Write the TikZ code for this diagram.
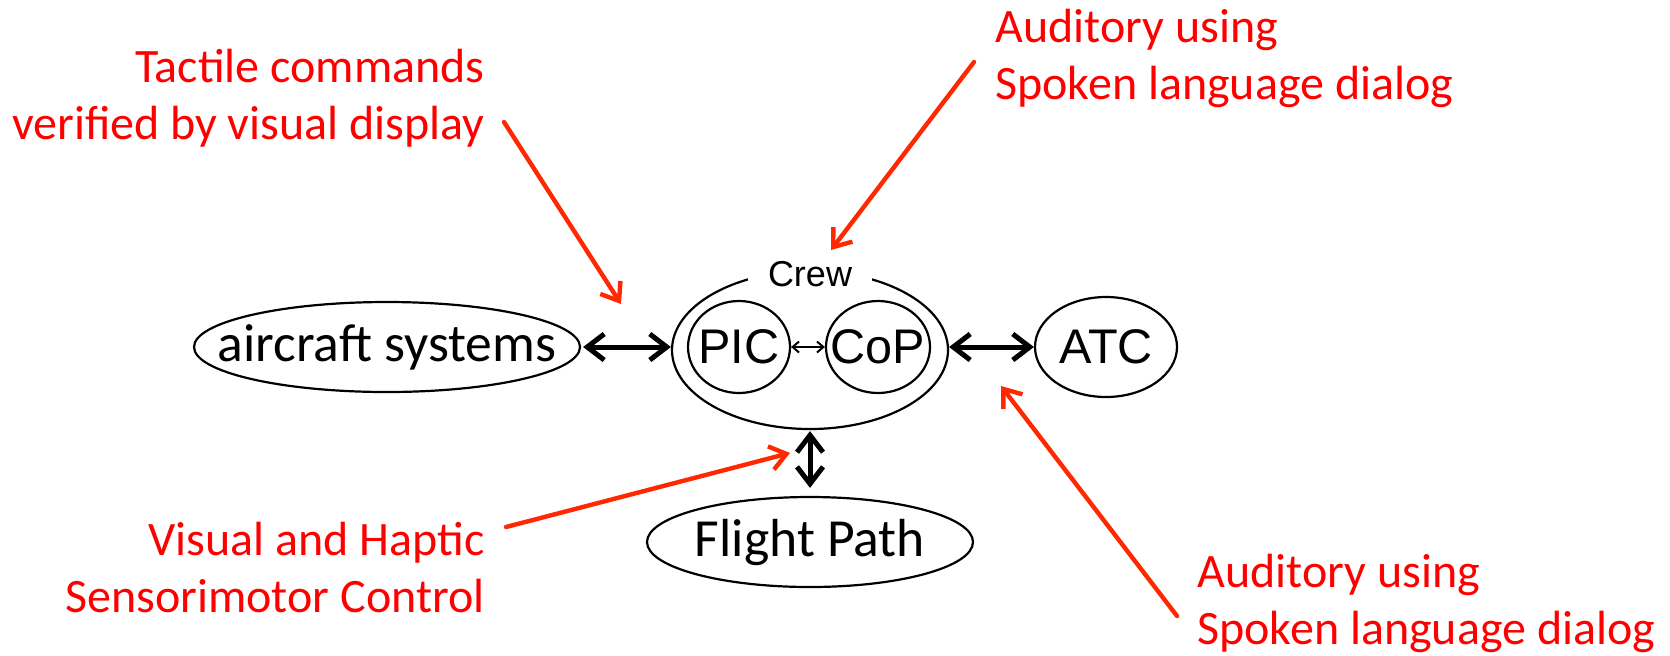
\documentclass[tikz,border=0pt]{standalone}
\usepackage{fontspec}
\setmainfont{Carlito}
\newfontfamily\helv{Liberation Sans}
\usetikzlibrary{arrows.meta,shapes.geometric}
\definecolor{notered}{RGB}{255,0,0}
\definecolor{pointer}{RGB}{255,40,0}
\begin{document}
\begin{tikzpicture}[x=0.5pt,y=-0.5pt,
  bubble/.style={draw, ellipse, line width=1.1pt, fill=white, inner sep=0pt},
  bigtext/.style={font=\fontsize{26.8}{30}\selectfont},
  roletext/.style={font=\helv\fontsize{24.3}{27}\selectfont},
  note/.style={text=notered, inner sep=0pt, font=\fontsize{24}{28.5}\selectfont},
  link/.style={line width=2.5pt, line cap=round, {Straight Barb[length=8.5pt,width=13pt]}-{Straight Barb[length=8.5pt,width=13pt]}},
  thinlink/.style={line width=1pt, {Straight Barb[length=3.2pt,width=5.5pt]}-{Straight Barb[length=3.2pt,width=5.5pt]}},
  pointarrow/.style={line width=2.2pt, line cap=round, draw=pointer, -{Straight Barb[length=8pt,width=12pt]}}]
\useasboundingbox (0,0) rectangle (1670,655);

% entities
\node[bubble, minimum width=193pt, minimum height=45pt,
      label={[bigtext]center:aircraft systems}] (air) at (387,347) {};
\node[bubble, minimum width=138pt, minimum height=79pt] (crew) at (810,350) {};
\node[bubble, minimum width=51pt, minimum height=46pt,
      label={[roletext]center:PIC}] (pic) at (739,347) {};
\node[bubble, minimum width=52pt, minimum height=46pt,
      label={[roletext]center:CoP}] (cop) at (878,347) {};
\node[fill=white, inner xsep=10pt, inner ysep=1pt,
      font=\helv\fontsize{18}{20}\selectfont] (crewlbl) at ([yshift=-2pt]crew.north) {Crew};
\node[bubble, minimum width=71pt, minimum height=50pt,
      label={[roletext]center:ATC}] (atc) at (1106,347) {};
\node[bubble, minimum width=163pt, minimum height=45pt,
      label={[bigtext]center:Flight Path}] (fp) at (810,542) {};

% links between entities
\draw[link, shorten <=1pt] (air.east) -- (air.east -| crew.west);
\draw[link] (crew.east |- atc.west) -- (atc.west);
\draw[thinlink] (pic.east) -- (cop.west);
\draw[link, shorten <=0.5pt, shorten >=4pt] (crew.south) -- (fp.north);

% modality notes
\node[note, align=right, anchor=east] (tactile) at (485,98)
  {Tactile commands\\verified by visual display};
\node[note, align=left, anchor=west] (audtop) at (995,58)
  {Auditory using\\Spoken language dialog};
\node[note, align=right, anchor=east] (visual) at (485,567)
  {Visual and Haptic\\Sensorimotor Control};
\node[note, align=left, anchor=west] (audbot) at (1197,603)
  {Auditory using\\Spoken language dialog};

% pointers from the notes
\coordinate (p1s) at (504,122);  \coordinate (p1e) at (621,304);
\coordinate (p2s) at (974,62);   \coordinate (p2e) at (831,250);
\coordinate (p3s) at (506,527);  \coordinate (p3e) at (790,453);
\coordinate (p4s) at (1177,616); \coordinate (p4e) at (1001,386);
\draw[pointarrow] (p1s) -- (p1e);
\draw[pointarrow] (p2s) -- (p2e);
\draw[pointarrow] (p3s) -- (p3e);
\draw[pointarrow] (p4s) -- (p4e);
\end{tikzpicture}
\end{document}
